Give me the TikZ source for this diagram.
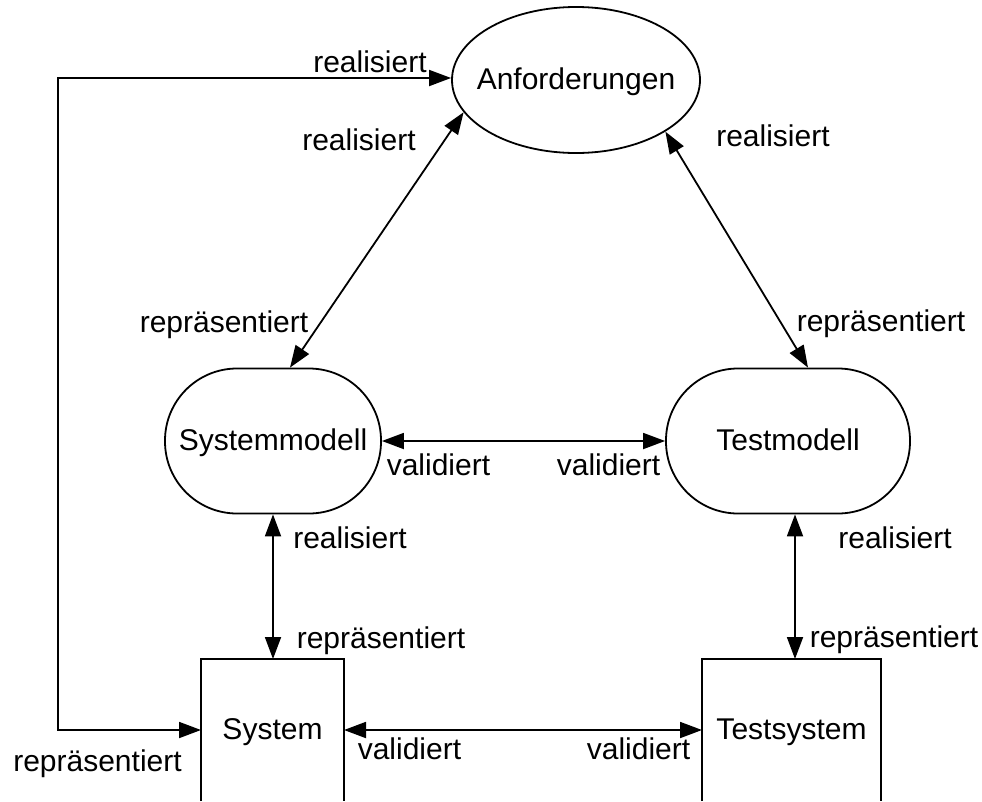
\documentclass[tikz,border=0pt]{standalone}
\usepackage{fontspec}
\setmainfont{Liberation Sans}
\usetikzlibrary{arrows.meta,shapes.geometric}
\begin{document}
\begin{tikzpicture}[x=1pt,y=-1pt,
  every node/.style={font=\fontsize{30}{36}\selectfont},
  conn/.style={line width=1.8pt,{Triangle[length=22pt,width=16pt]}-{Triangle[length=22pt,width=16pt]}},
  lbl/.style={anchor=base,inner sep=0pt},
  shapebox/.style={draw,line width=1.8pt,text height=18pt,text depth=0pt,inner sep=0pt},
  openbox/.style={text height=18pt,text depth=0pt,inner sep=0pt,outer sep=0pt,minimum height=142pt},
  side/.style={line width=1.8pt}
]
\useasboundingbox (0,0) rectangle (982,801);

% main nodes
\node[shapebox,ellipse,inner xsep=-12pt,minimum width=248pt,minimum height=146pt] (A) at (576,80) {Anforderungen};
\node[shapebox,rectangle,rounded corners=72pt,minimum width=216pt,minimum height=145pt] (SM) at (273,441) {Systemmodell};
\node[shapebox,rectangle,rounded corners=72pt,minimum width=244pt,minimum height=145pt] (TM) at (788,441) {Testmodell};
\node[openbox,minimum width=143pt] (S) at (272.5,730) {System};
\node[openbox,minimum width=179pt] (TS) at (791.5,730) {Testsystem};
\draw[side] (S.south west) -- (S.north west) -- (S.north east) -- (S.south east);
\draw[side] (TS.south west) -- (TS.north west) -- (TS.north east) -- (TS.south east);

% connectors
\draw[conn] (A.196.6) -- ([xshift=17pt]SM.north);
\draw[conn] (A.330) -- ([xshift=20pt]TM.north);
\draw[conn] (SM.east) -- (TM.west);
\draw[conn] (SM.south) -- (SM.south |- S.north);
\coordinate (tsn) at ([xshift=3.5pt]TS.north);
\draw[conn] (tsn) -- (tsn |- TM.south);
\draw[conn] (S.east) -- (TS.west);
\coordinate (L) at (58,0);
\draw[conn] (S.west) -- (S.west -| L) |- ([yshift=2pt]A.west);

% labels
\node[lbl] (l1) at (370,72) {realisiert};
\node[lbl] (l2) at (359,150) {realisiert};
\node[lbl] (l3) at (773,146) {realisiert};
\node[lbl] (l4) at (224,332) {repräsentiert};
\node[lbl] (l5) at (881,331) {repräsentiert};
\node[lbl] (l6) at (438.5,475) {validiert};
\node[lbl] (l7) at (608.5,475) {validiert};
\node[lbl] (l8) at (350,548) {realisiert};
\node[lbl] (l9) at (381,648) {repräsentiert};
\node[lbl] (l10) at (895,548) {realisiert};
\node[lbl] (l11) at (894,647) {repräsentiert};
\node[lbl] (l12) at (409.5,759) {validiert};
\node[lbl] (l13) at (638.5,759) {validiert};
\node[lbl] (l14) at (97.5,771) {repräsentiert};
\end{tikzpicture}
\end{document}
